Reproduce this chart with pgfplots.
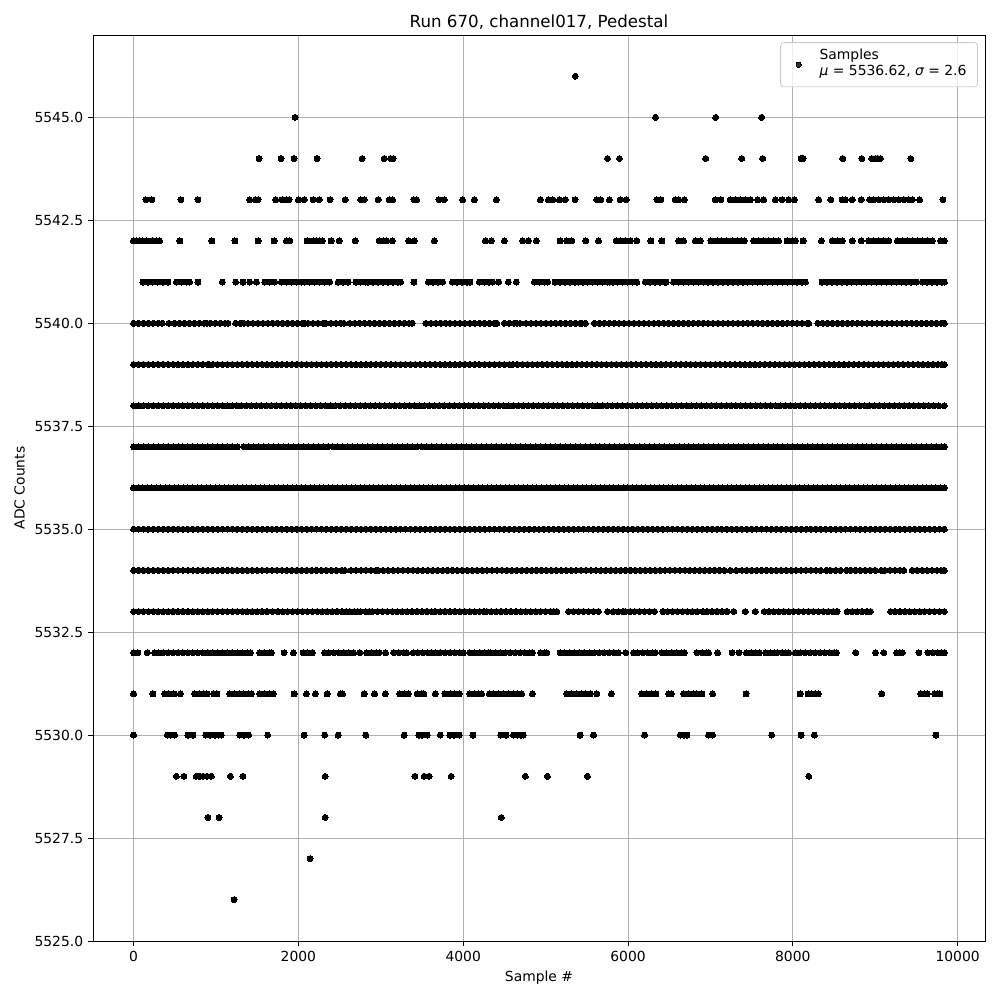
\documentclass[border=0pt]{standalone}
\usepackage{fontspec}
\setmainfont{DejaVu Sans}
\usepackage{pgfplots}
\pgfplotsset{compat=1.18}
\begin{document}
\fontsize{6.94}{8.3}\selectfont
\begin{tikzpicture}
\begin{axis}[
 scale only axis, width=446pt, height=453pt,
 xmin=-492, xmax=10332, ymin=5525, ymax=5547,
 xtick={0,2000,4000,6000,8000,10000},
 ytick={5525,5527.5,5530,5532.5,5535,5537.5,5540,5542.5,5545},
 scaled x ticks=false, scaled y ticks=false,
 xticklabel={\pgfmathprintnumber[assume math mode=true,1000 sep={}]{\tick}},
 yticklabel={\pgfmathprintnumber[assume math mode=true,fixed,fixed zerofill,precision=1,1000 sep={}]{\tick}},
 tick label style={font=\fontsize{6.94}{8.3}\selectfont},
 label style={font=\fontsize{6.94}{8.3}\selectfont},
 title style={font=\fontsize{8.33}{10}\selectfont, yshift=-5.5pt},
 title={Run 670, channel017, Pedestal},
 xlabel={Sample \#}, ylabel={ADC Counts},
 grid=major, major grid style={line width=0.4pt, draw=black!31},
 axis line style={line width=0.4pt},
 tick align=outside, tick pos=left, major tick length=2.43pt,
 tick style={black, line width=0.4pt},
 legend style={at={(0.992,0.992)}, anchor=north east, draw=black!20, rounded corners=1.5pt, fill=white, fill opacity=0.8, text opacity=1, font=\fontsize{6.94}{8.3}\selectfont, inner xsep=3.5pt, inner ysep=3.5pt},
 legend cell align=left,
 legend image code/.code={\fill[black] (5.5pt,0) circle (1.3pt); \path (0,0) (14pt,0);},
 every axis plot/.append style={only marks, mark=*, mark size=1.5pt, mark options={draw=black, fill=black}, line width=0pt},
]
\addplot[black] coordinates {(5360,5546)};
\addlegendentry{\raisebox{3pt}[\height][\depth]{\begin{tabular}{@{}l@{}}Samples\\{\itshape μ} = 5536.62, {\itshape σ} = 2.6\end{tabular}}}
\addplot[forget plot] coordinates {(1960,5545)(6334,5545)(7063,5545)(7622,5545)};
\addplot[forget plot] coordinates {(1523,5544)(1790,5544)(1948,5544)(2227,5544)(2774,5544)(3041,5544)(3118,5544)(3150,5544)(5751,5544)(5897,5544)(6942,5544)(7379,5544)(7634,5544)(8100,5544)(8124,5544)(8606,5544)(8837,5544)(8958,5544)(9003,5544)(9031,5544)(9064,5544)(9432,5544)};
\addplot[forget plot] coordinates {(150,5543)(223,5543)(575,5543)(782,5543)(1409,5543)(1479,5543)(1511,5543)(1725,5543)(1802,5543)(1855,5543)(1887,5543)(2001,5543)(2070,5543)(2179,5543)(2252,5543)(2385,5543)(2568,5543)(2758,5543)(2798,5543)(2968,5543)(3102,5543)(3143,5543)(3402,5543)(3435,5543)(3706,5543)(3770,5543)(3993,5543)(4135,5543)(4402,5543)(4937,5543)(5034,5543)(5087,5543)(5168,5543)(5237,5543)(5358,5543)(5622,5543)(5670,5543)(5775,5543)(5905,5543)(5978,5543)(6351,5543)(6399,5543)(6573,5543)(6614,5543)(6683,5543)(7059,5543)(7128,5543)(7241,5543)(7302,5543)(7363,5543)(7424,5543)(7485,5543)(7573,5543)(7646,5543)(7788,5543)(7869,5543)(7950,5543)(8019,5543)(8314,5543)(8460,5543)(8598,5543)(8639,5543)(8720,5543)(8829,5543)(8934,5543)(8983,5543)(9043,5543)(9104,5543)(9165,5543)(9226,5543)(9286,5543)(9347,5543)(9408,5543)(9449,5543)(9538,5543)(9821,5543)};
\addplot[forget plot] coordinates {(0,5542)(32,5542)(73,5542)(113,5542)(162,5542)(235,5542)(275,5542)(316,5542)(563,5542)(951,5542)(1231,5542)(1511,5542)(1705,5542)(1855,5542)(1896,5542)(2106,5542)(2179,5542)(2219,5542)(2260,5542)(2292,5542)(2397,5542)(2495,5542)(2689,5542)(2981,5542)(3029,5542)(3070,5542)(3139,5542)(3341,5542)(3406,5542)(3649,5542)(4268,5542)(4341,5542)(4499,5542)(4722,5542)(4791,5542)(4888,5542)(5176,5542)(5257,5542)(5318,5542)(5488,5542)(5642,5542)(5856,5542)(5905,5542)(5966,5542)(6026,5542)(6107,5542)(6278,5542)(6411,5542)(6614,5542)(6674,5542)(6816,5542)(6877,5542)(7007,5542)(7080,5542)(7140,5542)(7201,5542)(7262,5542)(7323,5542)(7383,5542)(7412,5542)(7525,5542)(7585,5542)(7646,5542)(7707,5542)(7768,5542)(7828,5542)(7930,5542)(7991,5542)(8031,5542)(8124,5542)(8347,5542)(8477,5542)(8537,5542)(8598,5542)(8720,5542)(8829,5542)(8922,5542)(8983,5542)(9043,5542)(9104,5542)(9165,5542)(9267,5542)(9327,5542)(9388,5542)(9449,5542)(9509,5542)(9570,5542)(9631,5542)(9692,5542)(9793,5542)(9839,5542)};
\addplot[forget plot] coordinates {(113,5541)(173,5541)(233,5541)(293,5541)(356,5541)(417,5541)(519,5541)(579,5541)(639,5541)(680,5541)(782,5541)(1077,5541)(1239,5541)(1328,5541)(1409,5541)(1491,5541)(1592,5541)(1652,5541)(1713,5541)(1794,5541)(1854,5541)(1914,5541)(1974,5541)(2037,5541)(2078,5541)(2138,5541)(2198,5541)(2258,5541)(2320,5541)(2381,5541)(2483,5541)(2543,5541)(2604,5541)(2697,5541)(2757,5541)(2817,5541)(2847,5541)(2908,5541)(2968,5541)(3028,5541)(3088,5541)(3148,5541)(3208,5541)(3240,5541)(3402,5541)(3576,5541)(3636,5541)(3696,5541)(3750,5541)(3867,5541)(3927,5541)(3987,5541)(4047,5541)(4082,5541)(4195,5541)(4255,5541)(4315,5541)(4358,5541)(4431,5541)(4548,5541)(4645,5541)(4864,5541)(4924,5541)(4984,5541)(5026,5541)(5115,5541)(5175,5541)(5235,5541)(5295,5541)(5355,5541)(5398,5541)(5452,5541)(5512,5541)(5572,5541)(5632,5541)(5692,5541)(5752,5541)(5775,5541)(5816,5541)(5876,5541)(5936,5541)(5996,5541)(6056,5541)(6107,5541)(6209,5541)(6269,5541)(6329,5541)(6389,5541)(6449,5541)(6464,5541)(6553,5541)(6613,5541)(6673,5541)(6733,5541)(6793,5541)(6853,5541)(6913,5541)(6973,5541)(7033,5541)(7093,5541)(7153,5541)(7213,5541)(7273,5541)(7333,5541)(7393,5541)(7453,5541)(7513,5541)(7573,5541)(7633,5541)(7693,5541)(7753,5541)(7813,5541)(7873,5541)(7933,5541)(7993,5541)(8053,5541)(8113,5541)(8153,5541)(8355,5541)(8415,5541)(8475,5541)(8535,5541)(8595,5541)(8655,5541)(8715,5541)(8775,5541)(8835,5541)(8895,5541)(8955,5541)(9015,5541)(9075,5541)(9135,5541)(9195,5541)(9255,5541)(9315,5541)(9375,5541)(9435,5541)(9501,5541)(9570,5541)(9630,5541)(9690,5541)(9750,5541)(9810,5541)(9839,5541)};
\addplot[forget plot] coordinates {(0,5540)(60,5540)(120,5540)(180,5540)(240,5540)(300,5540)(349,5540)(429,5540)(498,5540)(558,5540)(618,5540)(678,5540)(738,5540)(798,5540)(858,5540)(891,5540)(932,5540)(992,5540)(1052,5540)(1112,5540)(1146,5540)(1239,5540)(1299,5540)(1336,5540)(1389,5540)(1449,5540)(1509,5540)(1569,5540)(1629,5540)(1689,5540)(1749,5540)(1809,5540)(1869,5540)(1929,5540)(1989,5540)(2049,5540)(2078,5540)(2118,5540)(2178,5540)(2238,5540)(2298,5540)(2329,5540)(2394,5540)(2454,5540)(2514,5540)(2552,5540)(2624,5540)(2685,5540)(2745,5540)(2805,5540)(2865,5540)(2925,5540)(2985,5540)(3045,5540)(3105,5540)(3165,5540)(3225,5540)(3285,5540)(3345,5540)(3382,5540)(3548,5540)(3608,5540)(3668,5540)(3728,5540)(3788,5540)(3839,5540)(3900,5540)(3960,5540)(4020,5540)(4080,5540)(4140,5540)(4200,5540)(4260,5540)(4320,5540)(4380,5540)(4407,5540)(4499,5540)(4559,5540)(4619,5540)(4649,5540)(4690,5540)(4763,5540)(4823,5540)(4883,5540)(4943,5540)(5003,5540)(5063,5540)(5123,5540)(5183,5540)(5243,5540)(5303,5540)(5363,5540)(5423,5540)(5439,5540)(5484,5540)(5593,5540)(5653,5540)(5713,5540)(5773,5540)(5833,5540)(5893,5540)(5953,5540)(6013,5540)(6073,5540)(6133,5540)(6193,5540)(6253,5540)(6313,5540)(6373,5540)(6433,5540)(6493,5540)(6553,5540)(6613,5540)(6673,5540)(6733,5540)(6793,5540)(6853,5540)(6913,5540)(6973,5540)(7033,5540)(7093,5540)(7153,5540)(7213,5540)(7273,5540)(7333,5540)(7393,5540)(7453,5540)(7513,5540)(7573,5540)(7633,5540)(7693,5540)(7753,5540)(7813,5540)(7873,5540)(7933,5540)(7993,5540)(8053,5540)(8113,5540)(8173,5540)(8193,5540)(8302,5540)(8362,5540)(8422,5540)(8482,5540)(8542,5540)(8602,5540)(8662,5540)(8722,5540)(8782,5540)(8842,5540)(8902,5540)(8962,5540)(9022,5540)(9082,5540)(9142,5540)(9202,5540)(9262,5540)(9322,5540)(9382,5540)(9442,5540)(9502,5540)(9562,5540)(9622,5540)(9682,5540)(9742,5540)(9802,5540)(9839,5540)};
\addplot[forget plot] coordinates {(0,5539)(60,5539)(120,5539)(180,5539)(240,5539)(300,5539)(360,5539)(420,5539)(480,5539)(540,5539)(600,5539)(660,5539)(720,5539)(780,5539)(840,5539)(900,5539)(915,5539)(963,5539)(1020,5539)(1080,5539)(1140,5539)(1200,5539)(1260,5539)(1320,5539)(1380,5539)(1440,5539)(1500,5539)(1560,5539)(1620,5539)(1680,5539)(1740,5539)(1800,5539)(1860,5539)(1920,5539)(1980,5539)(2040,5539)(2100,5539)(2160,5539)(2220,5539)(2280,5539)(2340,5539)(2400,5539)(2460,5539)(2520,5539)(2580,5539)(2640,5539)(2700,5539)(2760,5539)(2820,5539)(2880,5539)(2940,5539)(3000,5539)(3060,5539)(3120,5539)(3180,5539)(3240,5539)(3300,5539)(3360,5539)(3420,5539)(3480,5539)(3540,5539)(3600,5539)(3660,5539)(3720,5539)(3780,5539)(3840,5539)(3900,5539)(3960,5539)(4020,5539)(4080,5539)(4140,5539)(4195,5539)(4260,5539)(4320,5539)(4380,5539)(4440,5539)(4500,5539)(4560,5539)(4601,5539)(4657,5539)(4720,5539)(4780,5539)(4840,5539)(4900,5539)(4960,5539)(5020,5539)(5080,5539)(5140,5539)(5200,5539)(5260,5539)(5320,5539)(5380,5539)(5440,5539)(5500,5539)(5560,5539)(5620,5539)(5680,5539)(5740,5539)(5800,5539)(5860,5539)(5920,5539)(5980,5539)(6040,5539)(6100,5539)(6160,5539)(6220,5539)(6280,5539)(6340,5539)(6400,5539)(6460,5539)(6520,5539)(6580,5539)(6640,5539)(6700,5539)(6760,5539)(6820,5539)(6880,5539)(6940,5539)(7000,5539)(7060,5539)(7120,5539)(7180,5539)(7240,5539)(7300,5539)(7360,5539)(7420,5539)(7480,5539)(7540,5539)(7600,5539)(7660,5539)(7720,5539)(7780,5539)(7840,5539)(7900,5539)(7960,5539)(8020,5539)(8080,5539)(8140,5539)(8200,5539)(8260,5539)(8320,5539)(8380,5539)(8440,5539)(8500,5539)(8560,5539)(8620,5539)(8680,5539)(8740,5539)(8800,5539)(8860,5539)(8920,5539)(8980,5539)(9040,5539)(9100,5539)(9160,5539)(9220,5539)(9280,5539)(9340,5539)(9400,5539)(9460,5539)(9520,5539)(9580,5539)(9640,5539)(9700,5539)(9760,5539)(9810,5539)(9839,5539)};
\addplot[forget plot] coordinates {(0,5538)(60,5538)(120,5538)(180,5538)(240,5538)(300,5538)(360,5538)(420,5538)(480,5538)(540,5538)(600,5538)(660,5538)(720,5538)(780,5538)(840,5538)(900,5538)(960,5538)(1020,5538)(1080,5538)(1140,5538)(1200,5538)(1255,5538)(1308,5538)(1370,5538)(1430,5538)(1490,5538)(1550,5538)(1610,5538)(1670,5538)(1730,5538)(1790,5538)(1850,5538)(1910,5538)(1970,5538)(2030,5538)(2090,5538)(2150,5538)(2210,5538)(2270,5538)(2330,5538)(2390,5538)(2450,5538)(2510,5538)(2570,5538)(2630,5538)(2690,5538)(2750,5538)(2810,5538)(2870,5538)(2930,5538)(2990,5538)(3050,5538)(3110,5538)(3170,5538)(3230,5538)(3290,5538)(3350,5538)(3410,5538)(3470,5538)(3530,5538)(3590,5538)(3650,5538)(3710,5538)(3770,5538)(3830,5538)(3890,5538)(3950,5538)(4010,5538)(4070,5538)(4130,5538)(4190,5538)(4250,5538)(4310,5538)(4370,5538)(4430,5538)(4490,5538)(4550,5538)(4610,5538)(4670,5538)(4730,5538)(4790,5538)(4850,5538)(4910,5538)(4970,5538)(5030,5538)(5090,5538)(5150,5538)(5210,5538)(5270,5538)(5330,5538)(5390,5538)(5450,5538)(5510,5538)(5570,5538)(5630,5538)(5690,5538)(5750,5538)(5810,5538)(5870,5538)(5930,5538)(5990,5538)(6050,5538)(6110,5538)(6170,5538)(6230,5538)(6290,5538)(6350,5538)(6410,5538)(6470,5538)(6530,5538)(6590,5538)(6650,5538)(6710,5538)(6770,5538)(6830,5538)(6890,5538)(6950,5538)(7010,5538)(7070,5538)(7130,5538)(7190,5538)(7250,5538)(7310,5538)(7370,5538)(7430,5538)(7490,5538)(7550,5538)(7610,5538)(7670,5538)(7730,5538)(7790,5538)(7850,5538)(7910,5538)(7970,5538)(8030,5538)(8090,5538)(8150,5538)(8210,5538)(8270,5538)(8330,5538)(8390,5538)(8450,5538)(8510,5538)(8570,5538)(8630,5538)(8690,5538)(8750,5538)(8810,5538)(8870,5538)(8930,5538)(8990,5538)(9050,5538)(9110,5538)(9170,5538)(9230,5538)(9290,5538)(9350,5538)(9410,5538)(9470,5538)(9530,5538)(9590,5538)(9650,5538)(9710,5538)(9770,5538)(9839,5538)};
\addplot[forget plot] coordinates {(0,5537)(60,5537)(120,5537)(180,5537)(240,5537)(300,5537)(360,5537)(420,5537)(480,5537)(540,5537)(600,5537)(660,5537)(720,5537)(780,5537)(840,5537)(900,5537)(960,5537)(1020,5537)(1080,5537)(1140,5537)(1200,5537)(1260,5537)(1340,5537)(1400,5537)(1460,5537)(1520,5537)(1580,5537)(1640,5537)(1700,5537)(1760,5537)(1820,5537)(1880,5537)(1940,5537)(2000,5537)(2060,5537)(2120,5537)(2180,5537)(2240,5537)(2300,5537)(2360,5537)(2420,5537)(2480,5537)(2540,5537)(2600,5537)(2660,5537)(2720,5537)(2780,5537)(2840,5537)(2900,5537)(2960,5537)(3020,5537)(3080,5537)(3140,5537)(3200,5537)(3260,5537)(3320,5537)(3380,5537)(3440,5537)(3500,5537)(3560,5537)(3620,5537)(3680,5537)(3740,5537)(3800,5537)(3860,5537)(3920,5537)(3980,5537)(4040,5537)(4100,5537)(4160,5537)(4220,5537)(4280,5537)(4340,5537)(4400,5537)(4460,5537)(4520,5537)(4580,5537)(4640,5537)(4700,5537)(4760,5537)(4820,5537)(4880,5537)(4940,5537)(5000,5537)(5060,5537)(5120,5537)(5180,5537)(5240,5537)(5300,5537)(5360,5537)(5420,5537)(5480,5537)(5540,5537)(5600,5537)(5660,5537)(5720,5537)(5780,5537)(5840,5537)(5900,5537)(5960,5537)(6020,5537)(6080,5537)(6140,5537)(6200,5537)(6260,5537)(6320,5537)(6380,5537)(6440,5537)(6500,5537)(6560,5537)(6620,5537)(6680,5537)(6740,5537)(6800,5537)(6860,5537)(6920,5537)(6980,5537)(7040,5537)(7100,5537)(7160,5537)(7220,5537)(7280,5537)(7340,5537)(7400,5537)(7460,5537)(7520,5537)(7580,5537)(7640,5537)(7700,5537)(7760,5537)(7820,5537)(7880,5537)(7940,5537)(8000,5537)(8060,5537)(8120,5537)(8180,5537)(8240,5537)(8300,5537)(8360,5537)(8420,5537)(8480,5537)(8540,5537)(8600,5537)(8660,5537)(8720,5537)(8780,5537)(8840,5537)(8900,5537)(8960,5537)(9020,5537)(9080,5537)(9140,5537)(9200,5537)(9260,5537)(9320,5537)(9380,5537)(9440,5537)(9500,5537)(9560,5537)(9620,5537)(9680,5537)(9740,5537)(9800,5537)(9839,5537)};
\addplot[forget plot] coordinates {(0,5536)(55,5536)(110,5536)(165,5536)(220,5536)(275,5536)(330,5536)(385,5536)(440,5536)(495,5536)(550,5536)(605,5536)(660,5536)(715,5536)(770,5536)(825,5536)(880,5536)(935,5536)(990,5536)(1045,5536)(1100,5536)(1155,5536)(1210,5536)(1265,5536)(1320,5536)(1375,5536)(1430,5536)(1485,5536)(1540,5536)(1595,5536)(1650,5536)(1705,5536)(1760,5536)(1815,5536)(1870,5536)(1925,5536)(1980,5536)(2035,5536)(2090,5536)(2145,5536)(2200,5536)(2255,5536)(2310,5536)(2365,5536)(2420,5536)(2475,5536)(2530,5536)(2585,5536)(2640,5536)(2695,5536)(2750,5536)(2805,5536)(2860,5536)(2915,5536)(2970,5536)(3025,5536)(3080,5536)(3135,5536)(3190,5536)(3245,5536)(3300,5536)(3355,5536)(3410,5536)(3465,5536)(3520,5536)(3575,5536)(3630,5536)(3685,5536)(3740,5536)(3795,5536)(3850,5536)(3905,5536)(3960,5536)(4015,5536)(4070,5536)(4125,5536)(4180,5536)(4235,5536)(4290,5536)(4345,5536)(4400,5536)(4455,5536)(4510,5536)(4565,5536)(4620,5536)(4675,5536)(4730,5536)(4785,5536)(4840,5536)(4895,5536)(4950,5536)(5005,5536)(5060,5536)(5115,5536)(5170,5536)(5225,5536)(5280,5536)(5335,5536)(5390,5536)(5445,5536)(5500,5536)(5555,5536)(5610,5536)(5665,5536)(5720,5536)(5775,5536)(5830,5536)(5885,5536)(5940,5536)(5995,5536)(6050,5536)(6105,5536)(6160,5536)(6215,5536)(6270,5536)(6325,5536)(6380,5536)(6435,5536)(6490,5536)(6545,5536)(6600,5536)(6655,5536)(6710,5536)(6765,5536)(6820,5536)(6875,5536)(6930,5536)(6985,5536)(7040,5536)(7095,5536)(7150,5536)(7205,5536)(7260,5536)(7315,5536)(7370,5536)(7425,5536)(7480,5536)(7535,5536)(7590,5536)(7645,5536)(7700,5536)(7755,5536)(7810,5536)(7865,5536)(7920,5536)(7975,5536)(8030,5536)(8085,5536)(8140,5536)(8195,5536)(8250,5536)(8305,5536)(8360,5536)(8415,5536)(8470,5536)(8525,5536)(8580,5536)(8635,5536)(8690,5536)(8745,5536)(8800,5536)(8855,5536)(8910,5536)(8965,5536)(9020,5536)(9075,5536)(9130,5536)(9185,5536)(9240,5536)(9295,5536)(9350,5536)(9405,5536)(9460,5536)(9515,5536)(9570,5536)(9625,5536)(9680,5536)(9735,5536)(9790,5536)(9839,5536)};
\addplot[forget plot] coordinates {(0,5535)(60,5535)(120,5535)(180,5535)(240,5535)(300,5535)(360,5535)(420,5535)(480,5535)(540,5535)(600,5535)(660,5535)(720,5535)(780,5535)(840,5535)(900,5535)(960,5535)(1020,5535)(1080,5535)(1140,5535)(1200,5535)(1260,5535)(1320,5535)(1380,5535)(1440,5535)(1500,5535)(1560,5535)(1620,5535)(1680,5535)(1740,5535)(1800,5535)(1860,5535)(1920,5535)(1980,5535)(2040,5535)(2100,5535)(2160,5535)(2220,5535)(2280,5535)(2340,5535)(2400,5535)(2460,5535)(2520,5535)(2580,5535)(2640,5535)(2700,5535)(2760,5535)(2820,5535)(2880,5535)(2940,5535)(3000,5535)(3060,5535)(3120,5535)(3180,5535)(3240,5535)(3300,5535)(3360,5535)(3420,5535)(3480,5535)(3540,5535)(3600,5535)(3660,5535)(3720,5535)(3780,5535)(3840,5535)(3900,5535)(3960,5535)(4020,5535)(4080,5535)(4140,5535)(4200,5535)(4260,5535)(4320,5535)(4380,5535)(4440,5535)(4500,5535)(4560,5535)(4620,5535)(4680,5535)(4740,5535)(4800,5535)(4860,5535)(4920,5535)(4980,5535)(5040,5535)(5100,5535)(5160,5535)(5220,5535)(5280,5535)(5340,5535)(5400,5535)(5460,5535)(5520,5535)(5580,5535)(5640,5535)(5700,5535)(5760,5535)(5820,5535)(5880,5535)(5940,5535)(6000,5535)(6060,5535)(6120,5535)(6180,5535)(6240,5535)(6300,5535)(6360,5535)(6420,5535)(6480,5535)(6540,5535)(6600,5535)(6660,5535)(6720,5535)(6780,5535)(6840,5535)(6900,5535)(6960,5535)(7020,5535)(7080,5535)(7140,5535)(7200,5535)(7260,5535)(7320,5535)(7380,5535)(7440,5535)(7500,5535)(7560,5535)(7620,5535)(7680,5535)(7740,5535)(7800,5535)(7860,5535)(7920,5535)(7980,5535)(8040,5535)(8100,5535)(8160,5535)(8220,5535)(8280,5535)(8340,5535)(8400,5535)(8460,5535)(8520,5535)(8580,5535)(8640,5535)(8700,5535)(8760,5535)(8820,5535)(8880,5535)(8940,5535)(9000,5535)(9060,5535)(9120,5535)(9180,5535)(9240,5535)(9300,5535)(9360,5535)(9420,5535)(9480,5535)(9540,5535)(9600,5535)(9660,5535)(9720,5535)(9780,5535)(9839,5535)};
\addplot[forget plot] coordinates {(0,5534)(60,5534)(120,5534)(180,5534)(240,5534)(300,5534)(360,5534)(420,5534)(480,5534)(540,5534)(600,5534)(660,5534)(720,5534)(780,5534)(840,5534)(900,5534)(960,5534)(1020,5534)(1080,5534)(1140,5534)(1200,5534)(1260,5534)(1320,5534)(1380,5534)(1440,5534)(1500,5534)(1560,5534)(1620,5534)(1680,5534)(1740,5534)(1800,5534)(1860,5534)(1920,5534)(1980,5534)(2040,5534)(2100,5534)(2160,5534)(2220,5534)(2280,5534)(2340,5534)(2400,5534)(2460,5534)(2524,5534)(2564,5534)(2640,5534)(2700,5534)(2760,5534)(2820,5534)(2880,5534)(2940,5534)(2969,5534)(3029,5534)(3090,5534)(3150,5534)(3210,5534)(3270,5534)(3330,5534)(3390,5534)(3450,5534)(3510,5534)(3570,5534)(3630,5534)(3690,5534)(3750,5534)(3810,5534)(3870,5534)(3930,5534)(3990,5534)(4050,5534)(4110,5534)(4170,5534)(4230,5534)(4290,5534)(4350,5534)(4410,5534)(4470,5534)(4530,5534)(4590,5534)(4650,5534)(4710,5534)(4770,5534)(4830,5534)(4890,5534)(4950,5534)(5010,5534)(5070,5534)(5130,5534)(5190,5534)(5250,5534)(5310,5534)(5370,5534)(5430,5534)(5490,5534)(5550,5534)(5610,5534)(5670,5534)(5730,5534)(5790,5534)(5850,5534)(5910,5534)(5970,5534)(6030,5534)(6090,5534)(6150,5534)(6210,5534)(6270,5534)(6330,5534)(6390,5534)(6450,5534)(6510,5534)(6570,5534)(6630,5534)(6690,5534)(6750,5534)(6810,5534)(6870,5534)(6930,5534)(6990,5534)(7050,5534)(7110,5534)(7170,5534)(7241,5534)(7314,5534)(7383,5534)(7440,5534)(7500,5534)(7560,5534)(7620,5534)(7680,5534)(7740,5534)(7800,5534)(7860,5534)(7920,5534)(7980,5534)(8040,5534)(8100,5534)(8160,5534)(8220,5534)(8280,5534)(8340,5534)(8408,5534)(8456,5534)(8520,5534)(8580,5534)(8651,5534)(8700,5534)(8760,5534)(8820,5534)(8880,5534)(8940,5534)(9000,5534)(9073,5534)(9113,5534)(9180,5534)(9240,5534)(9300,5534)(9347,5534)(9449,5534)(9510,5534)(9570,5534)(9630,5534)(9690,5534)(9750,5534)(9800,5534)(9839,5534)};
\addplot[forget plot] coordinates {(0,5533)(60,5533)(120,5533)(180,5533)(240,5533)(300,5533)(360,5533)(420,5533)(480,5533)(540,5533)(600,5533)(660,5533)(720,5533)(780,5533)(840,5533)(900,5533)(960,5533)(1020,5533)(1080,5533)(1140,5533)(1200,5533)(1260,5533)(1320,5533)(1380,5533)(1440,5533)(1500,5533)(1560,5533)(1620,5533)(1685,5533)(1753,5533)(1810,5533)(1870,5533)(1930,5533)(1990,5533)(2050,5533)(2110,5533)(2170,5533)(2230,5533)(2290,5533)(2350,5533)(2410,5533)(2470,5533)(2530,5533)(2580,5533)(2624,5533)(2677,5533)(2720,5533)(2754,5533)(2819,5533)(2860,5533)(2895,5533)(2961,5533)(3020,5533)(3080,5533)(3140,5533)(3200,5533)(3260,5533)(3320,5533)(3380,5533)(3440,5533)(3500,5533)(3560,5533)(3617,5533)(3657,5533)(3720,5533)(3780,5533)(3840,5533)(3900,5533)(3960,5533)(4020,5533)(4080,5533)(4140,5533)(4200,5533)(4253,5533)(4285,5533)(4340,5533)(4400,5533)(4460,5533)(4520,5533)(4580,5533)(4640,5533)(4700,5533)(4760,5533)(4820,5533)(4880,5533)(4940,5533)(5000,5533)(5060,5533)(5100,5533)(5136,5533)(5277,5533)(5340,5533)(5400,5533)(5460,5533)(5520,5533)(5580,5533)(5641,5533)(5751,5533)(5820,5533)(5880,5533)(5940,5533)(5966,5533)(6026,5533)(6080,5533)(6140,5533)(6200,5533)(6260,5533)(6322,5533)(6424,5533)(6480,5533)(6540,5533)(6600,5533)(6660,5533)(6720,5533)(6780,5533)(6840,5533)(6910,5533)(6958,5533)(7020,5533)(7080,5533)(7140,5533)(7200,5533)(7282,5533)(7424,5533)(7545,5533)(7654,5533)(7710,5533)(7770,5533)(7830,5533)(7890,5533)(7950,5533)(8010,5533)(8070,5533)(8130,5533)(8190,5533)(8250,5533)(8310,5533)(8370,5533)(8430,5533)(8490,5533)(8537,5533)(8659,5533)(8720,5533)(8780,5533)(8840,5533)(8900,5533)(8942,5533)(9185,5533)(9240,5533)(9300,5533)(9360,5533)(9420,5533)(9480,5533)(9540,5533)(9600,5533)(9660,5533)(9720,5533)(9780,5533)(9839,5533)};
\addplot[forget plot] coordinates {(0,5532)(53,5532)(166,5532)(255,5532)(300,5532)(360,5532)(420,5532)(480,5532)(540,5532)(600,5532)(660,5532)(720,5532)(780,5532)(840,5532)(900,5532)(960,5532)(1020,5532)(1080,5532)(1140,5532)(1200,5532)(1260,5532)(1320,5532)(1380,5532)(1418,5532)(1531,5532)(1590,5532)(1650,5532)(1673,5532)(1826,5532)(1940,5532)(2057,5532)(2110,5532)(2171,5532)(2320,5532)(2370,5532)(2430,5532)(2490,5532)(2550,5532)(2610,5532)(2670,5532)(2746,5532)(2827,5532)(2890,5532)(2950,5532)(2981,5532)(3058,5532)(3159,5532)(3220,5532)(3280,5532)(3313,5532)(3394,5532)(3450,5532)(3510,5532)(3570,5532)(3617,5532)(3669,5532)(3720,5532)(3780,5532)(3840,5532)(3900,5532)(3960,5532)(4001,5532)(4082,5532)(4140,5532)(4200,5532)(4260,5532)(4305,5532)(4334,5532)(4390,5532)(4450,5532)(4510,5532)(4570,5532)(4630,5532)(4690,5532)(4750,5532)(4800,5532)(4840,5532)(4941,5532)(4990,5532)(5014,5532)(5176,5532)(5230,5532)(5290,5532)(5350,5532)(5410,5532)(5470,5532)(5530,5532)(5590,5532)(5650,5532)(5710,5532)(5770,5532)(5830,5532)(5884,5532)(5974,5532)(6067,5532)(6120,5532)(6180,5532)(6240,5532)(6300,5532)(6330,5532)(6411,5532)(6470,5532)(6530,5532)(6590,5532)(6650,5532)(6683,5532)(6836,5532)(6900,5532)(6950,5532)(6978,5532)(7087,5532)(7262,5532)(7347,5532)(7436,5532)(7500,5532)(7550,5532)(7594,5532)(7670,5532)(7730,5532)(7780,5532)(7808,5532)(7869,5532)(7910,5532)(7950,5532)(8031,5532)(8090,5532)(8150,5532)(8210,5532)(8270,5532)(8330,5532)(8390,5532)(8450,5532)(8500,5532)(8529,5532)(8764,5532)(9003,5532)(9104,5532)(9258,5532)(9300,5532)(9327,5532)(9530,5532)(9639,5532)(9700,5532)(9760,5532)(9810,5532)(9839,5532)};
\addplot[forget plot] coordinates {(0,5531)(235,5531)(377,5531)(430,5531)(490,5531)(567,5531)(741,5531)(800,5531)(850,5531)(891,5531)(972,5531)(1012,5531)(1166,5531)(1220,5531)(1280,5531)(1340,5531)(1390,5531)(1430,5531)(1531,5531)(1590,5531)(1650,5531)(1693,5531)(1948,5531)(2098,5531)(2207,5531)(2349,5531)(2511,5531)(2535,5531)(2798,5531)(2924,5531)(3054,5531)(3232,5531)(3290,5531)(3333,5531)(3442,5531)(3490,5531)(3523,5531)(3661,5531)(3779,5531)(3840,5531)(3900,5531)(3952,5531)(4082,5531)(4140,5531)(4190,5531)(4224,5531)(4317,5531)(4370,5531)(4430,5531)(4490,5531)(4550,5531)(4610,5531)(4660,5531)(4710,5531)(4840,5531)(5257,5531)(5310,5531)(5370,5531)(5430,5531)(5490,5531)(5540,5531)(5622,5531)(5799,5531)(6169,5531)(6230,5531)(6290,5531)(6339,5531)(6492,5531)(6524,5531)(6674,5531)(6730,5531)(6790,5531)(6828,5531)(6897,5531)(7027,5531)(7432,5531)(8088,5531)(8185,5531)(8230,5531)(8270,5531)(8307,5531)(9080,5531)(9550,5531)(9600,5531)(9631,5531)(9720,5531)(9750,5531)(9785,5531)};
\addplot[forget plot] coordinates {(0,5530)(409,5530)(450,5530)(498,5530)(660,5530)(721,5530)(875,5530)(930,5530)(990,5530)(1030,5530)(1065,5530)(1288,5530)(1340,5530)(1397,5530)(1628,5530)(2070,5530)(2320,5530)(2483,5530)(2819,5530)(3284,5530)(3463,5530)(3500,5530)(3564,5530)(3722,5530)(3839,5530)(3890,5530)(3952,5530)(4119,5530)(4455,5530)(4520,5530)(4609,5530)(4660,5530)(4700,5530)(4730,5530)(5419,5530)(5581,5530)(6201,5530)(6634,5530)(6680,5530)(6715,5530)(6978,5530)(7027,5530)(7743,5530)(8100,5530)(8262,5530)(9736,5530)};
\addplot[forget plot] coordinates {(519,5529)(611,5529)(761,5529)(800,5529)(845,5529)(890,5529)(944,5529)(1175,5529)(1328,5529)(2325,5529)(3414,5529)(3527,5529)(3588,5529)(3855,5529)(4754,5529)(5022,5529)(5508,5529)(8193,5529)};
\addplot[forget plot] coordinates {(903,5528)(1037,5528)(2325,5528)(4463,5528)};
\addplot[forget plot] coordinates {(2142,5527)};
\addplot[forget plot] coordinates {(1219,5526)};
\end{axis}
\pgfresetboundingbox
\path[use as bounding box] ([xshift=-46.5pt,yshift=-29.5pt]current axis.south west) rectangle ([xshift=7.5pt,yshift=17.5pt]current axis.north east);
\end{tikzpicture}
\end{document}
